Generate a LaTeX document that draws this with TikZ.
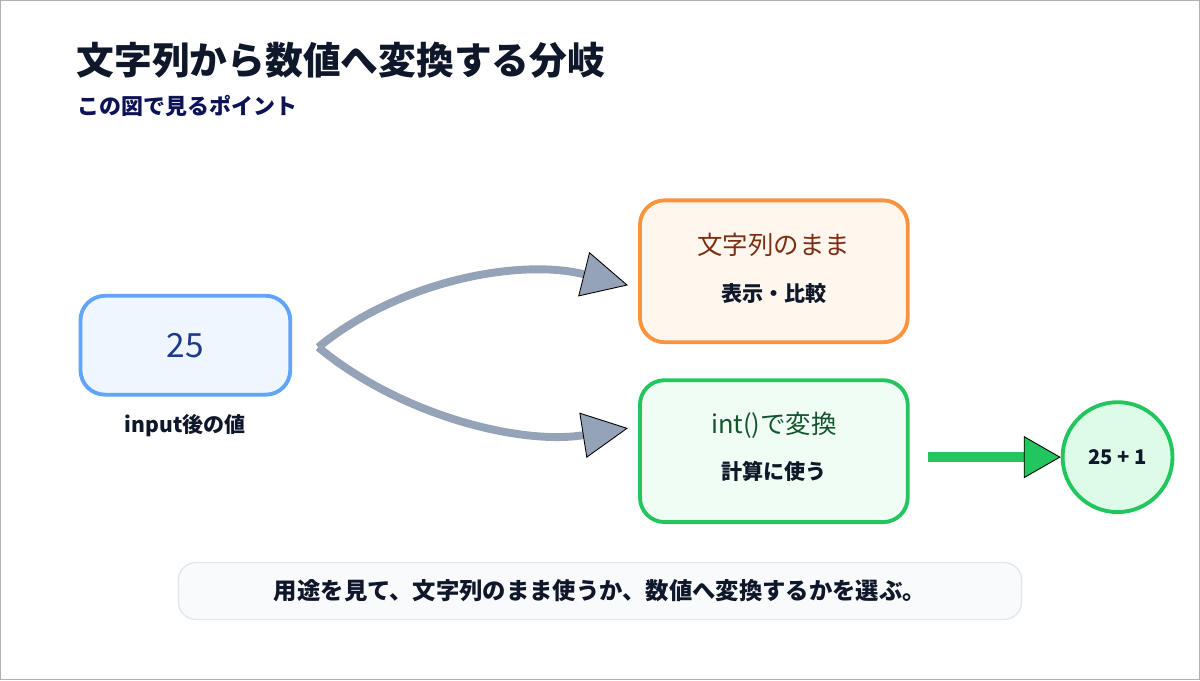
\documentclass[tikz,border=0pt]{standalone}
\usepackage{fontspec}
\setmainfont{Noto Sans CJK JP}
\usetikzlibrary{arrows.meta, positioning}
\definecolor{bluebd}{HTML}{60A5FA}
\definecolor{bluebg}{HTML}{EFF6FF}
\definecolor{bluetx}{HTML}{1E3A8A}
\definecolor{orbd}{HTML}{FB923C}
\definecolor{orbg}{HTML}{FFF7ED}
\definecolor{ortx}{HTML}{7C2D12}
\definecolor{grbd}{HTML}{22C55E}
\definecolor{grbg}{HTML}{F0FDF4}
\definecolor{grcirc}{HTML}{DCFCE7}
\definecolor{grtx}{HTML}{14532D}
\definecolor{slate}{HTML}{94A3B8}
\definecolor{notebg}{HTML}{F8FAFC}
\definecolor{notebd}{HTML}{E2E8F0}
\definecolor{ink}{HTML}{0F172A}
\begin{document}
\begin{tikzpicture}[x=0.02cm, y=-0.02cm,
    box/.style={rectangle, rounded corners=14pt, line width=2.2pt, minimum width=268*0.02cm, minimum height=142*0.02cm, align=center},
    mainlabel/.style={font=\fontsize{14.5}{17}\selectfont},
    sublabel/.style={font=\bfseries\fontsize{12}{14}\selectfont, text=ink},
    branch/.style={line width=4.5pt, draw=slate, -{Triangle[length=26pt, width=26pt, fill=slate, color=black, line width=0.5pt]}},
    result/.style={line width=5.5pt, draw=grbd, -{Triangle[length=21pt, width=24pt, fill=grbd, color=black, line width=0.5pt]}}
  ]
  \draw[gray!60, line width=0.6pt, fill=white] (0,0) rectangle (1200,680);

  % Title
  \node[anchor=west, text=ink, font=\bfseries\fontsize{21.5}{25}\selectfont] (title) at (70,60) {文字列から数値へ変換する分岐};
  \node[anchor=west, text=ink!80!blue, font=\bfseries\fontsize{12.5}{14}\selectfont] (subtitle) at (71,106) {この図で見るポイント};

  % Input value
  \node[box, draw=bluebd, fill=bluebg, minimum width=210*0.02cm, minimum height=99*0.02cm] (input) at (185,345)
    {\textcolor{bluetx}{\fontsize{19}{21}\selectfont 25}};
  \node[sublabel] (inputlabel) at (185,425) {input後の値};
  \coordinate (fork) at (318,347);

  % Keep as string
  \node[box, draw=orbd, fill=orbg] (keep) at (774,271) {};
  \node[mainlabel, text=ortx] (keeptitle) at (774,245) {文字列のまま};
  \node[sublabel] (keepsub) at (774,293) {表示・比較};

  % Convert with int()
  \node[box, draw=grbd, fill=grbg] (conv) at (774,451) {};
  \node[mainlabel, text=grtx] (convtitle) at (774,425) {int()で変換};
  \node[sublabel] (convsub) at (774,471) {計算に使う};

  % Result
  \node[circle, draw=grbd, fill=grcirc, line width=2.2pt, minimum size=110*0.02cm, font=\bfseries\fontsize{11.5}{13}\selectfont, text=ink] (calc) at (1118,457) {25 + 1};

  % Arrows
  \coordinate (keepin) at (628,285);
  \coordinate (convin) at (628,428);
  \draw[branch] (fork) .. controls (400,280) and (520,258) .. (keepin);
  \draw[branch] (fork) .. controls (400,415) and (520,445) .. (convin);
  \coordinate (convout) at (928,457);
  \draw[result] (convout) -- (calc.west);

  % Note
  \node[rectangle, rounded corners=10pt, draw=notebd, fill=notebg, line width=0.8pt, minimum width=844*0.02cm, minimum height=57*0.02cm, font=\bfseries\fontsize{13.3}{15}\selectfont, text=ink] (note) at (600,591)
    {用途を見て、文字列のまま使うか、数値へ変換するかを選ぶ。};
\end{tikzpicture}
\end{document}
